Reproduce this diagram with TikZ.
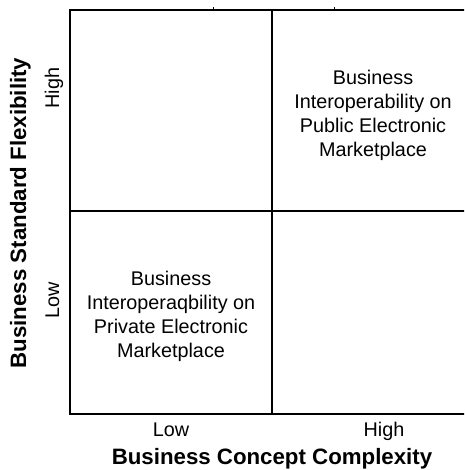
\documentclass[tikz,border=0pt]{standalone}
\usepackage{fontspec}
\setmainfont{Liberation Sans}
\usetikzlibrary{positioning}

\begin{document}
\begin{tikzpicture}
[x=0.75pt,y=0.75pt,
 grid/.style={draw,line width=1.4pt},
 tickmark/.style={draw,line width=0.6pt},
 celltext/.style={align=center,font=\fontsize{14.85}{18}\selectfont},
 level/.style={font=\fontsize{14.85}{18}\selectfont,anchor=base},
 axis/.style={font=\fontsize{16.7}{20}\selectfont\bfseries,anchor=base}]

\useasboundingbox (0,0) rectangle (464,470);
\clip (0,0) rectangle (464,470);

\coordinate (tl) at (70,460);
\coordinate (br) at (496,56);
\coordinate (ml) at (70,259);
\coordinate (mr) at (496,259);
\coordinate (mt) at (272,460);
\coordinate (mb) at (272,56);

\draw [grid] (tl) rectangle (br);
\draw [grid] (ml) -- (mr);
\draw [grid] (mt) -- (mb);

\draw [tickmark] (213,460) -- ++(0,3);
\draw [tickmark] (334,460) -- ++(0,3);

\node (public) [celltext] at (373,355)
	{Business\\Interoperability on\\Public Electronic\\Marketplace};
\node (private) [celltext] at (171,154)
	{Business\\Interoperaqbility on\\Private Electronic\\Marketplace};

\node (xlow) [level] at (171,33) {Low};
\node (xhigh) [level] at (384,33) {High};
\node (xaxis) [axis] at (272,5) {Business Concept Complexity};

\node (yhigh) [level,rotate=90] at (59,382) {High};
\node (ylow) [level,rotate=90] at (59,170) {Low};
\node (yaxis) [axis,rotate=90] at (26,257) {Business Standard Flexibility};

\end{tikzpicture}
\end{document}
